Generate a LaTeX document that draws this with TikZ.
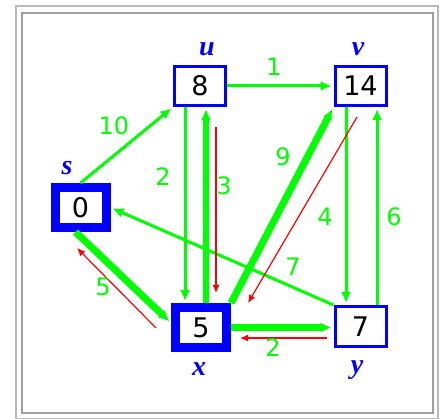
\documentclass[tikz,border=0pt]{standalone}
\usepackage{fontspec}
\setsansfont{DejaVu Sans}
\newfontfamily\lblfont{Liberation Serif}
\usetikzlibrary{arrows.meta,positioning,calc}
\definecolor{grgreen}{RGB}{0,255,0}
\definecolor{grblue}{RGB}{0,0,255}
\definecolor{grred}{RGB}{255,0,0}
\begin{document}
\begin{tikzpicture}[x=1pt,y=-1pt,
    vbox/.style={draw=grblue, line width=3pt, fill=white, minimum width=51pt, minimum height=39pt, inner sep=0pt,
      font=\sffamily\fontsize{27}{27}\selectfont},
    srcbox/.style={vbox, line width=9pt, minimum width=51pt, minimum height=40pt},
    vname/.style={text=grblue, font=\lblfont\bfseries\itshape\fontsize{28}{28}\selectfont},
    wlabel/.style={text=grgreen, font=\sffamily\fontsize{24}{24}\selectfont},
    edge/.style={-{Latex[length=11pt,width=10pt]}, line width=3pt, grgreen, shorten >=2pt},
    tree/.style={edge, line width=7pt},
    back/.style={-{Latex[length=8pt,width=7pt]}, line width=1.2pt, grred}
  ]
    \useasboundingbox (0,0) rectangle (444,419);
    \fill[white] (0,0) rectangle (444,419);
    % frame
    \draw[gray!55, line width=2pt] (16,6) rectangle (438,419);
    \draw[gray!75, line width=2pt] (22,13) rectangle (433,413);

    \node[vbox] (u) at (200,86) {8};
    \node[vbox] (v) at (360.5,86) {14};
    \node[srcbox] (s) at (80.5,207.5) {0};
    \node[srcbox] (x) at (201,327.5) {5};
    \node[vbox, minimum height=40pt] (y) at (360.5,326.5) {7};

    \node[vname] (lu) at (207,49) {u};
    \node[vname] (lv) at (358,49) {v};
    \node[vname] (ls) at (67,168) {s};
    \node[vname] (lx) at (199,369) {x};
    \node[vname] (ly) at (357,370) {y};

    \draw[edge] (u.east) -- (v.west);
    \draw[edge] (s.north) -- (u.south west);
    \draw[edge] ([xshift=-15pt]u.south) -- ([xshift=-16pt]x.north);
    \draw[edge, line width=6pt] ([xshift=5pt]x.north) -- ([xshift=6pt]u.south);
    \draw[tree] (x.north east) -- (v.south west);
    \draw[edge] ([xshift=-14.5pt]v.south) -- ([xshift=-14.5pt]y.north);
    \draw[edge] ([xshift=16.5pt]y.north) -- ([xshift=16.5pt]v.south);
    \draw[edge] (y.north west) -- (s.east);
    \draw[tree] ([xshift=-5pt]s.south) -- ([yshift=4.5pt]x.west);
    \draw[tree] (x.east) -- (x.east -| y.west);

    % predecessor pointers
    \coordinate (r3a) at (216,127);
    \coordinate (r3b) at (216,293);
    \coordinate (r9a) at (357,117);
    \coordinate (r9b) at (248,303);
    \coordinate (r5a) at (156,328);
    \coordinate (r5b) at (77,248);
    \coordinate (r2a) at (327,338);
    \coordinate (r2b) at (240,338);
    \draw[back] (r3a) -- (r3b);
    \draw[back] (r9a) -- (r9b);
    \draw[back] (r5a) -- (r5b);
    \draw[back] (r2a) -- (r2b);

    \node[wlabel] (w1) at (274,67) {1};
    \node[wlabel] (w10) at (114,126) {10};
    \node[wlabel] (w2a) at (163,177) {2};
    \node[wlabel] (w3) at (224,186) {3};
    \node[wlabel] (w9) at (283,157) {9};
    \node[wlabel] (w4) at (325,217) {4};
    \node[wlabel] (w6) at (394,217) {6};
    \node[wlabel] (w7) at (293,267) {7};
    \node[wlabel] (w5) at (103,287) {5};
    \node[wlabel] (w2b) at (273,348) {2};
  \end{tikzpicture}
\end{document}
